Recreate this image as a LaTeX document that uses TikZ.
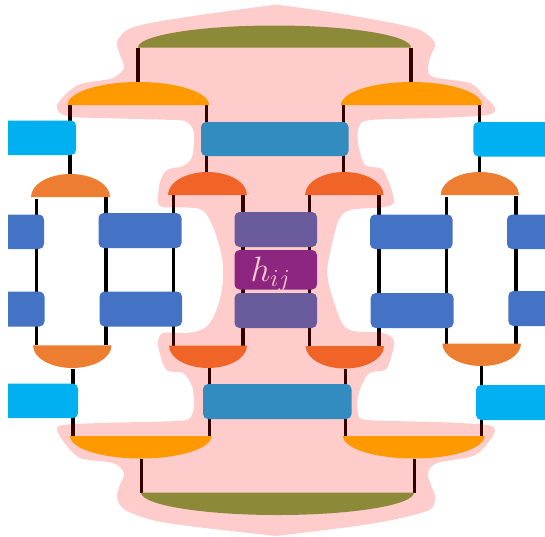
\documentclass[tikz,border=0pt]{standalone}
\pgfdeclarelayer{lines}
\pgfdeclarelayer{veil}
\pgfsetlayers{lines,main,veil}
\definecolor{cCyan}{HTML}{00B0F0}
\definecolor{cBlue}{HTML}{4472C4}
\definecolor{cOrange}{HTML}{ED7D31}
\definecolor{cGold}{HTML}{FFC000}
\definecolor{cGreen}{HTML}{70AD47}
\definecolor{cPurple}{HTML}{7030A0}
\tikzset{
  unitbox/.style={inner sep=0pt,outer sep=0pt,rounded corners=3.75pt,text=white},
  wire/.style={line width=2.4pt,black},
  veilshape/.style={fill=red,fill opacity=.2}
}
% \bx{name}{x1}{y1}{x2}{y2}{colour}
\newcommand{\bx}[6]{%
  \pgfmathsetmacro{\bw}{(#4-#2)*.75}\pgfmathsetmacro{\bh}{(#5-#3)*.75}%
  \node[unitbox,fill=#6,minimum width=\bw pt,minimum height=\bh pt] (#1) at ({(#2+#4)/2},{(#3+#5)/2}) {};}
% \dome{name}{x1}{x2}{yflat}{ytip}{colour}: half ellipse
\newcommand{\dome}[6]{%
  \pgfmathsetmacro{\dw}{(#3-#2)*.75}\pgfmathsetmacro{\dh}{abs(#5-#4)*.75}%
  \pgfmathsetmacro{\xm}{(#2+#3)/2}%
  \pgfmathsetmacro{\ca}{\xm-.5523*(#3-#2)/2}\pgfmathsetmacro{\cb}{\xm+.5523*(#3-#2)/2}%
  \pgfmathsetmacro{\cy}{#4+.5523*(#5-#4)}%
  \fill[#6] (#2,#4) .. controls (#2,\cy) and (\ca,#5) .. (\xm,#5) .. controls (\cb,#5) and (#3,\cy) .. (#3,#4) -- cycle;
  \node[inner sep=0pt,outer sep=0pt,minimum width=\dw pt,minimum height=\dh pt] (#1) at ({(#2+#3)/2},{(#4+#5)/2}) {};}
% \wirex[options]{x}{from}{to}
\newcommand{\wirex}[4][]{\coordinate (c) at (#2,0); \draw[wire,#1] (#3 -| c) -- (#4 -| c);}
\begin{document}
\begin{tikzpicture}[x=.75pt,y=-.75pt]
\useasboundingbox (0,0) rectangle (545,536);
% domes
\dome{oliveT}{138}{411}{47.5}{25.5}{cGreen}
\dome{goldTL}{67.5}{209}{105}{82}{cGold}
\dome{goldTR}{341}{482}{105}{82}{cGold}
\dome{orgTL}{31}{110}{197}{174}{cOrange}
\dome{redTL}{168}{247}{195}{172}{cOrange}
\dome{redTR}{305}{383.5}{195}{172}{cOrange}
\dome{orgTR}{440.7}{519}{195}{172}{cOrange}
\dome{orgBL}{33}{111.5}{345.3}{368}{cOrange}
\dome{redBL}{169}{247}{345.5}{368}{cOrange}
\dome{redBR}{305.7}{384}{346}{368.5}{cOrange}
\dome{orgBR}{442.3}{521}{343.5}{366}{cOrange}
\dome{goldBL}{70}{211.5}{436}{458.5}{cGold}
\dome{goldBR}{343}{484.5}{436}{458.5}{cGold}
\dome{oliveB}{141}{414}{492.5}{515}{cGreen}
% boxes
\begin{scope}
\clip (8,0) rectangle (560,536);
\bx{cyTL}{-10}{120.5}{76}{155}{cCyan}
\bx{cyTR}{473.3}{122}{565}{156.5}{cCyan}
\bx{teT}{201}{122}{348.5}{156}{cCyan}
\bx{bl1a}{-10}{214.5}{44}{249}{cBlue}
\bx{bl1b}{98.5}{213}{181.5}{248}{cBlue}
\bx{pu1}{234.5}{212}{317}{247}{cBlue}
\bx{bl1c}{370}{214.5}{452.5}{249}{cBlue}
\bx{bl1d}{507}{214.5}{565}{249}{cBlue}
\bx{hbox}{234.5}{250}{317}{289.5}{cPurple}
\bx{bl2a}{-10}{291.5}{44.5}{326.5}{cBlue}
\bx{bl2b}{99.5}{291.5}{182}{326.5}{cBlue}
\bx{pu2}{234.5}{293}{317}{328}{cBlue}
\bx{bl2c}{370.7}{293}{453.5}{328}{cBlue}
\bx{bl2d}{508.3}{291}{565}{326}{cBlue}
\bx{cyBL}{-10}{383.7}{78}{418}{cCyan}
\bx{teB}{203}{384}{351.5}{419}{cCyan}
\bx{cyBR}{476}{385}{565}{420}{cCyan}
\end{scope}
\node[inner sep=0pt,text=white,scale=1.06] (hlabel) at (270.5,274) {\fontsize{24}{24}\selectfont$h_{ij}$};
% connectors
\begin{pgfonlayer}{lines}
\wirex{138}{oliveT.south}{goldTL.north}
\wirex{411}{oliveT.south}{goldTR.north}
\wirex{70}{goldTL.south}{orgTL.north}
\wirex{206.8}{goldTL.south}{redTL.north}
\wirex{343.5}{goldTR.south}{redTR.north}
\wirex{479.7}{goldTR.south}{orgTR.north}
\wirex[shorten <=1.5pt]{36.7}{orgTL.south}{orgBL.north}
\wirex{106}{orgTL.south}{orgBL.north}
\wirex{173.7}{redTL.south}{redBL.north}
\wirex{243}{redTL.south}{redBL.north}
\wirex{309.7}{redTR.south}{redBR.north}
\wirex{379}{redTR.south}{redBR.north}
\wirex[shorten <=1.5pt]{446.7}{orgTR.south}{orgBR.north}
\wirex[shorten <=1pt]{516}{orgTR.south}{orgBR.north}
\wirex[shorten <=.75pt]{73}{orgBL.south}{goldBL.north}
\wirex{209.3}{redBL.south}{goldBL.north}
\wirex{345.3}{redBR.south}{goldBR.north}
\wirex{481.7}{orgBR.south}{goldBR.north}
\wirex{141.5}{goldBL.south}{oliveB.north}
\wirex{414.5}{goldBR.south}{oliveB.north}
\end{pgfonlayer}
% translucent region
\begin{pgfonlayer}{veil}
\fill[veilshape]
  plot[smooth,tension=.5] coordinates {(276,4.5) (200,15) (150,23) (127,30) (117,42) (120,55) (124,68) (113,78) (90,82) (78,85) (67,93) (57,105) (60,113) (73,117) (100,118) (173,120) (187,122) (194,133) (192,157) (183,166) (167,170) (160,182) (158,200) (163,207) (200,209) (213,227) (222,257) (223,280) (220,299) (213,318) (203,329) (187,333) (163,333) (158,343) (162,361) (168,371) (183,373) (192,386) (194,406) (190,418) (177,421) (100,423) (63,425) (57,429) (63,441) (80,458) (113,463) (124,473) (120,485) (117,498) (127,511) (167,523) (276,536)}
  -- plot[smooth,tension=.5] coordinates {(276,536) (370,524) (427,511) (435,498) (431,485) (428,473) (437,463) (473,456) (487,444) (495,431) (487,425) (437,422) (367,420) (358,413) (358,396) (368,374) (385,370) (390,361) (394,341) (383,333) (353,331) (342,323) (333,299) (328,280) (328,263) (338,222) (350,210) (385,207) (394,200) (383,170) (365,165) (358,143) (359,127) (370,120) (437,118) (487,115) (495,108) (483,95) (470,83) (433,77) (428,68) (431,55) (435,43) (420,30) (387,22) (330,12) (276,4.5)}
  -- cycle;
\end{pgfonlayer}
\end{tikzpicture}
\end{document}
